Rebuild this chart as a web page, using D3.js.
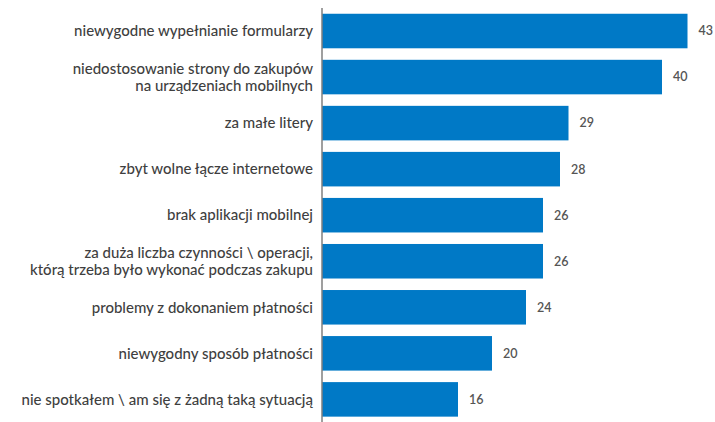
<!DOCTYPE html>
<html>
<head>
<meta charset="utf-8">
<script src="https://cdn.jsdelivr.net/npm/d3@7/dist/d3.min.js"></script>
<style>
  html, body { margin: 0; padding: 0; background: #fff; }
  svg { display: block; }
</style>
</head>
<body>
<svg id="chart" width="715" height="422"></svg>
<script>
// Reasons reported for abandoning an online purchase (%)
const categories = [
  ["niewygodne wypełnianie formularzy"],
  ["niedostosowanie strony do zakupów", "na urządzeniach mobilnych"],
  ["za małe litery"],
  ["zbyt wolne łącze internetowe"],
  ["brak aplikacji mobilnej"],
  ["za duża liczba czynności \\ operacji,", "którą trzeba było wykonać podczas zakupu"],
  ["problemy z dokonaniem płatności"],
  ["niewygodny sposób płatności"],
  ["nie spotkałem \\ am się z żadną taką sytuacją"]
];
const values = [43, 40, 29, 28, 26, 26, 24, 20, 16];

const svg = d3.select("#chart");
const axisX = 322;

const x = d3.scaleLinear().domain([0, 43]).range([axisX, 687.5]);
const y = d3.scaleBand()
  .domain(d3.range(values.length))
  .range([8, 422.4])
  .paddingInner(0.25)
  .paddingOuter(0.125);

// bars
svg.append("g")
  .selectAll("rect")
  .data(values)
  .join("rect")
  .attr("x", x(0))
  .attr("y", (d, i) => y(i))
  .attr("width", d => x(d) - x(0))
  .attr("height", y.bandwidth())
  .attr("fill", "#0079c6");

// value labels
svg.append("g")
  .selectAll("text")
  .data(values)
  .join("text")
  .attr("x", d => x(d) + 11)
  .attr("y", (d, i) => y(i) + y.bandwidth() / 2)
  .attr("dy", "0.35em")
  .attr("font-family", "Lato, sans-serif")
  .attr("font-size", 12.5)
  .attr("font-weight", 600)
  .attr("fill", "#555555")
  .text(d => d);

// category labels
const lineH = 17;
const lab = svg.append("g")
  .selectAll("text")
  .data(categories)
  .join("text")
  .attr("text-anchor", "end")
  .attr("font-family", "Lato, sans-serif")
  .attr("font-size", 15)
  .attr("font-weight", 500)
  .attr("fill", "#3f3f3f")
  .attr("y", (d, i) => y(i) + y.bandwidth() / 2 - (d.length - 1) * lineH / 2);

lab.selectAll("tspan")
  .data(d => d)
  .join("tspan")
  .attr("x", 313)
  .attr("dy", (d, j) => j === 0 ? "0.35em" : lineH)
  .text(d => d);

// vertical axis line
const yAxis = d3.axisLeft(y).tickSize(0).tickFormat("");
svg.append("g")
  .attr("transform", `translate(${axisX},0)`)
  .call(yAxis)
  .call(g => g.select(".domain")
    .attr("d", `M0,8V422`)
    .attr("stroke", "#7f7f7f")
    .attr("stroke-width", 1.5));
</script>
</body>
</html>
